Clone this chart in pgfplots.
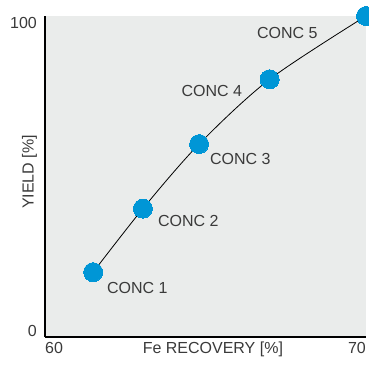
\documentclass[border=0pt]{standalone}
\usepackage{pgfplots}
\pgfplotsset{compat=1.18}
\usepackage{fontspec}
\setmainfont{Liberation Sans}
\definecolor{bgc}{HTML}{EAECEB}
\definecolor{ptc}{HTML}{0096D6}
\definecolor{txt}{HTML}{3A3A3A}
\newcommand{\lf}{\fontsize{16}{19}\selectfont}
\begin{document}
\begin{tikzpicture}
\begin{axis}[
  scale only axis, width=321pt, height=321pt,
  xmin=60, xmax=70, ymin=0, ymax=100,
  axis x line*=bottom, axis y line*=left,
  axis line style={-, line width=1.6pt, black},
  axis background/.style={fill=bgc},
  clip=false,
  /pgf/number format/assume math mode=true,
  major tick length=0pt,
  tick style={draw=none},
  xtick={60}, extra x ticks={70},
  ytick={0}, extra y ticks={100},
  xticklabel style={font=\lf, text=txt, inner sep=0pt, anchor=base west, yshift=-16pt},
  extra x tick style={xticklabel style={anchor=base east}},
  yticklabel style={font=\lf, text=txt, inner sep=0pt, anchor=south east, xshift=-8pt},
  extra y tick style={yticklabel style={anchor=north east, yshift=-1pt}},
  xlabel={Fe RECOVERY [\%]},
  xlabel style={font=\lf, text=txt, inner sep=0pt, at={(axis description cs:0.523,0)}, anchor=base, yshift=-16pt},
  ylabel={YIELD [\%]},
  ylabel style={font=\lf, text=txt, inner sep=0pt, at={(axis description cs:-0.0483,0.514)}, anchor=center},
]
\addplot[smooth, black, line width=0.8pt] coordinates {
  (61.5,20.2) (63.05,40) (64.8,60.1) (67.0,80.3) (70,100)
};
\addplot[ptc, only marks, mark=*, mark size=9.5pt, mark options={fill=ptc, draw=ptc, line width=0pt}] coordinates {
  (61.5,20.2) (63.05,40) (64.8,60.1) (67.0,80.3) (70,100)
};
\node[font=\lf, text=txt, inner sep=0pt, anchor=base west] at (axis cs:61.93,13.55) {CONC 1};
\node[font=\lf, text=txt, inner sep=0pt, anchor=base west] at (axis cs:63.52,34.42) {CONC 2};
\node[font=\lf, text=txt, inner sep=0pt, anchor=base west] at (axis cs:65.14,53.74) {CONC 3};
\node[font=\lf, text=txt, inner sep=0pt, anchor=base west] at (axis cs:64.25,74.92) {CONC 4};
\node[font=\lf, text=txt, inner sep=0pt, anchor=base west] at (axis cs:66.60,92.99) {CONC 5};
\coordinate (LL) at (rel axis cs:0,0);
\end{axis}
\pgfresetboundingbox
\path[use as bounding box] ([shift={(-45pt,-31pt)}]LL) rectangle ++(369pt,368pt);
\end{tikzpicture}
\end{document}
